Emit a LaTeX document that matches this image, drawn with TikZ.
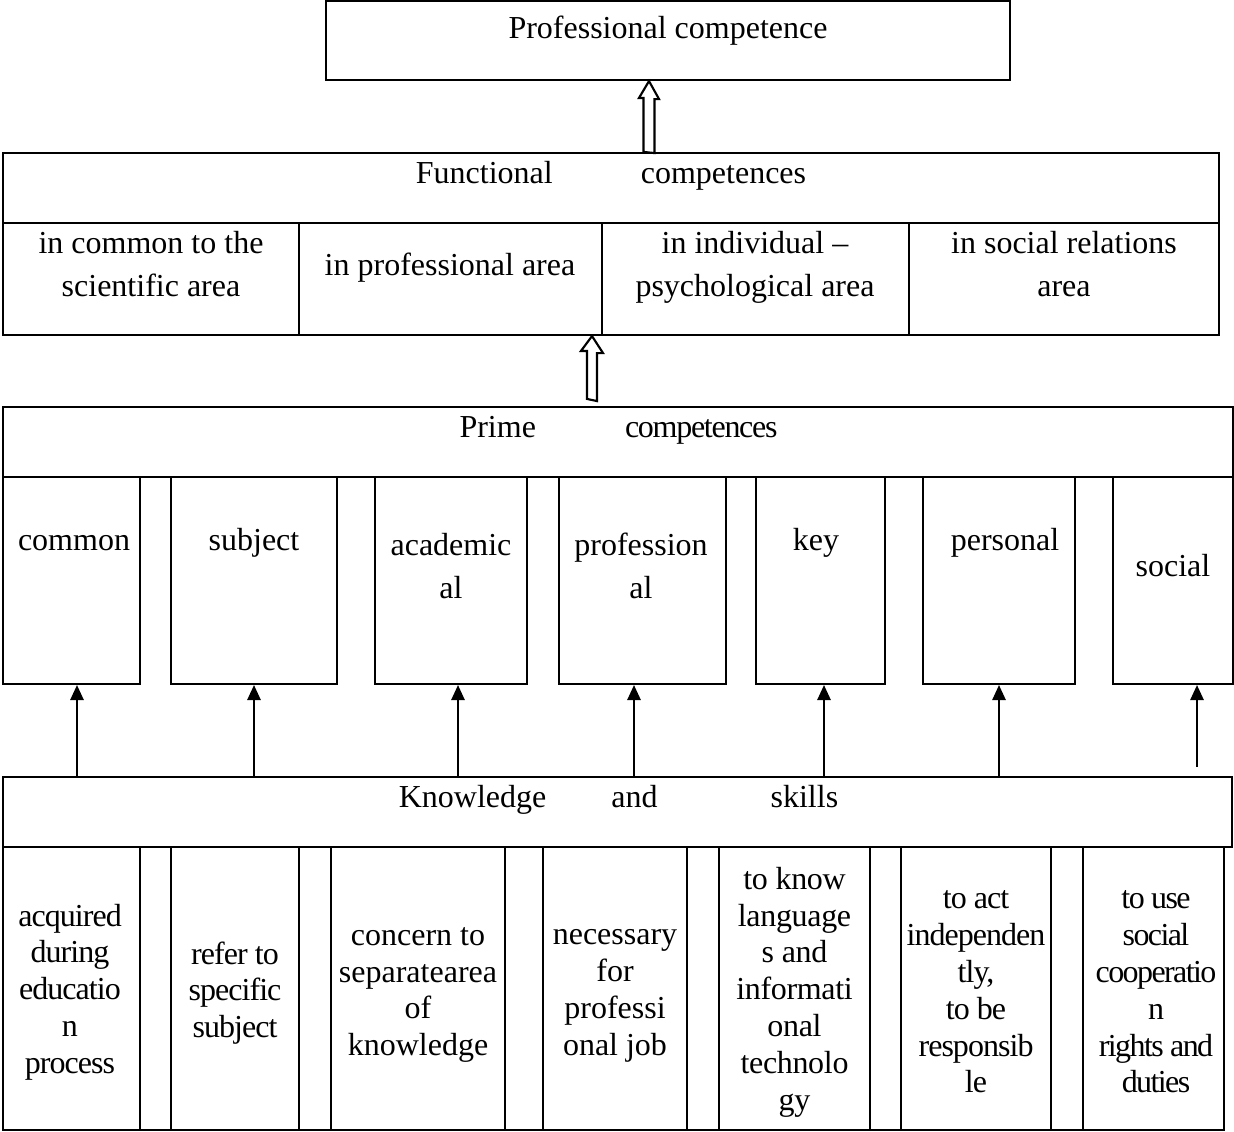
\documentclass[tikz,border=0pt]{standalone}
\usepackage{fontspec}
\setmainfont{Liberation Serif}
\usetikzlibrary{fit, calc, arrows.meta}

\begin{document}
\begin{tikzpicture}[
        x=0.375pt, y=-0.375pt,
        cell/.style={rectangle, draw, line width=0.8pt, inner sep=0pt},
        txt/.style={align=center, inner sep=0pt, font=\fontsize{12pt}{16.1pt}\selectfont},
        small/.style={align=center, inner sep=0pt, font=\fontsize{12pt}{13.8pt}\selectfont\addfontfeature{LetterSpace=#1}},
        small/.default=0,
        hollow/.style={draw, fill=white, line width=0.8pt, line join=miter},
        arr/.style={-{Triangle[length=5.6pt, width=5pt]}, line width=0.6pt}
    ]
    \useasboundingbox (0,0) rectangle (1234,1131);

    % PROFESSIONAL COMPETENCE
    \node[cell, fit={(326,1) (1010,80)}] (prof) {};
    \node[txt] (proftxt) at (668,31) {Professional competence};

    % FUNCTIONAL COMPETENCES
    \node[cell, fit={(3,153) (1219,223)}] (func) {};
    \node[txt] (functxt) at (611,176) {Functional\hspace{33pt}competences};
    \node[cell, fit={(3,223) (299,335)}] (fsci) {};
    \node[cell, fit={(299,223) (602,335)}] (fprof) {};
    \node[cell, fit={(602,223) (909,335)}] (find) {};
    \node[cell, fit={(909,223) (1219,335)}] (fsoc) {};
    \node[txt] (fscitxt) at (151,264.5) {in common to the\\scientific area};
    \node[txt] (fproftxt) at (450,267.5) {in professional area};
    \node[txt] (findtxt) at (755,267.5) {in individual --\\psychological area};
    \node[txt] (fsoctxt) at (1064,264.5) {in social relations\\area};

    % PRIME COMPETENCES
    \node[cell, fit={(3,407) (1233,477)}] (prime) {};
    \node[txt] (primetxt) at (618.5,430) {Prime\hspace{33.4pt}{\addfontfeature{LetterSpace=-4}competences}};
    \node[cell, fit={(3,477) (140,684)}] (pcom) {};
    \node[cell, fit={(171,477) (337,684)}] (psub) {};
    \node[cell, fit={(375,477) (527,684)}] (paca) {};
    \node[cell, fit={(559,477) (726,684)}] (ppro) {};
    \node[cell, fit={(756,477) (885,684)}] (pkey) {};
    \node[cell, fit={(923,477) (1075,684)}] (pper) {};
    \node[cell, fit={(1113,477) (1233,684)}] (psoc) {};
    \node[txt] (pcomtxt) at (74,543) {common};
    \node[txt] (psubtxt) at (254,543) {subject};
    \node[txt] (pacatxt) at (451,566) {academic\\al};
    \node[txt] (pprotxt) at (641,566) {profession\\al};
    \node[txt] (pkeytxt) at (816,543) {key};
    \node[txt] (ppertxt) at (1005,543) {personal};
    \node[txt] (psoctxt) at (1173,566) {social};

    % KNOWLEDGE AND SKILLS
    \node[cell, fit={(3,777) (1232,847)}] (know) {};
    \node[txt] (knowtxt) at (618.5,800) {Knowledge\hspace{24.4pt}and\hspace{42.4pt}skills};
    \node[cell, fit={(3,847) (1224,1130)}] (kbody) {};
    \node[cell, fit={(3,847) (140,1130)}] (kacq) {};
    \node[cell, fit={(171,847) (299,1130)}] (kref) {};
    \node[cell, fit={(331,847) (505,1130)}] (kcon) {};
    \node[cell, fit={(543,847) (687,1130)}] (knec) {};
    \node[cell, fit={(719,847) (870,1130)}] (klang) {};
    \node[cell, fit={(901,847) (1051,1130)}] (kact) {};
    \node[cell, fit={(1083,847) (1224,1130)}] (kuse) {};
    \node[small=-3] (kacqtxt) at (70,992) {acquired\\during\\educatio\\n\\process};
    \node[small=-3] (kreftxt) at (235,993) {refer to\\specific\\subject};
    \node[small] (kcontxt) at (418,995) {concern to\\separatearea\\of\\knowledge};
    \node[small] (knectxt) at (615,996) {necessary\\for\\professi\\onal job};
    \node[small=-1] (klangtxt) at (794.5,992) {to know\\language\\s and\\informati\\onal\\technolo\\gy};
    \node[small=-3] (kacttxt) at (976,992) {to act\\independen\\tly,\\to be\\responsib\\le};
    \node[small=-5] (kusetxt) at (1156,992) {to use\\social\\cooperatio\\n\\rights and\\duties};

    % Hollow arrows
    \coordinate (u1) at (649,0);
    \coordinate (u2) at (592,0);
    \draw[hollow] ($(func.north -| u1)+(-5.5,0)$) -- ++(0,-54) -- ++(-4.5,0) -- (prof.south -| u1) -- ++(10,18) -- ++(-4.5,0) -- ++(0,54) -- cycle;
    \draw[hollow] ($(prime.north -| u2)+(-5,-7)$) -- ++(0,-48) -- ++(-6,0) -- (fprof.south -| u2) -- ++(11,17) -- ++(-6,0) -- ++(0,48) -- cycle;

    % Arrows from knowledge to prime competences
    \coordinate (a1) at ($(pcom.south)+(5.5,0)$);
    \coordinate (a2) at (psub.south);
    \coordinate (a3) at ($(paca.south)+(7,0)$);
    \coordinate (a4) at ($(ppro.south)+(-8.5,0)$);
    \coordinate (a5) at ($(pkey.south)+(3.5,0)$);
    \coordinate (a6) at (pper.south);
    \coordinate (a7) at ($(psoc.south)+(24,0)$);
    \draw[arr] (know.north -| a1) -- (a1);
    \draw[arr] (know.north -| a2) -- (a2);
    \draw[arr] (know.north -| a3) -- (a3);
    \draw[arr] (know.north -| a4) -- (a4);
    \draw[arr] (know.north -| a5) -- (a5);
    \draw[arr] (know.north -| a6) -- (a6);
    \draw[arr] ($(know.north -| a7)+(0,-9)$) -- (a7);
\end{tikzpicture}
\end{document}
